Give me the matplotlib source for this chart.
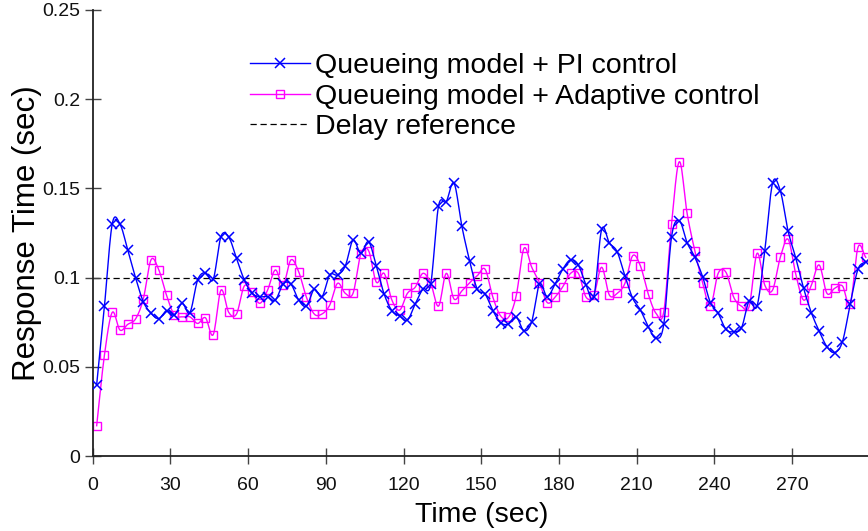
import numpy as np
import matplotlib
matplotlib.use("Agg")
import matplotlib.pyplot as plt
from matplotlib.lines import Line2D

plt.rcParams['font.family'] = ['Liberation Sans', 'DejaVu Sans']

# Time stamps (sec)
time = [1.5 + 3 * k for k in range(100)]

pi_control = [
    0.040, 0.084, 0.130, 0.130, 0.1155, 0.100, 0.0865, 0.080, 0.077, 0.0815,
    0.079, 0.0856, 0.0804, 0.0987, 0.1028, 0.099, 0.123, 0.1227, 0.1108, 0.0987,
    0.0912, 0.0893, 0.0893, 0.0874, 0.0964, 0.0964, 0.0874, 0.084, 0.0934, 0.0893,
    0.1015, 0.1015, 0.1065, 0.121, 0.1136, 0.1201, 0.1065, 0.0908, 0.0815, 0.0785,
    0.0762, 0.0852, 0.0936, 0.0964, 0.140, 0.1426, 0.1529, 0.1289, 0.1095, 0.0934,
    0.0908, 0.0815, 0.0747, 0.074, 0.078, 0.0702, 0.0753, 0.0964, 0.0893, 0.0964,
    0.1047, 0.110, 0.1071, 0.0958, 0.0893, 0.127, 0.1194, 0.1145, 0.1009, 0.0884,
    0.0818, 0.0725, 0.066, 0.074, 0.1229, 0.1319, 0.1196, 0.1114, 0.1005, 0.086,
    0.080, 0.071, 0.0697, 0.0718, 0.087, 0.084, 0.1151, 0.1529, 0.1487, 0.1261,
    0.1108, 0.094, 0.0803, 0.070, 0.0613, 0.058, 0.0641, 0.0852, 0.1047, 0.109,
]

adaptive_control = [
    0.017, 0.0566, 0.0805, 0.0706, 0.0738, 0.0768, 0.088, 0.110, 0.1043, 0.090,
    0.079, 0.078, 0.078, 0.0743, 0.0775, 0.068, 0.093, 0.0805, 0.0796, 0.0953,
    0.0918, 0.0856, 0.093, 0.1043, 0.0958, 0.1099, 0.1033, 0.089, 0.0796, 0.0796,
    0.0846, 0.0968, 0.0912, 0.0912, 0.1132, 0.1151, 0.0974, 0.1024, 0.0874, 0.0818,
    0.0912, 0.0946, 0.1024, 0.0968, 0.084, 0.1024, 0.088, 0.0925, 0.0971, 0.1011,
    0.1047, 0.089, 0.0785, 0.0777, 0.0897, 0.1164, 0.1058, 0.0971, 0.086, 0.089,
    0.0949, 0.1024, 0.1024, 0.089, 0.0902, 0.1058, 0.0902, 0.0912, 0.0968, 0.1123,
    0.1065, 0.0908, 0.080, 0.0809, 0.130, 0.165, 0.136, 0.1149, 0.0971, 0.084,
    0.1024, 0.1030, 0.089, 0.084, 0.084, 0.1136, 0.0958, 0.093, 0.1114, 0.1215,
    0.1017, 0.0874, 0.0958, 0.1071, 0.0912, 0.094, 0.0953, 0.0852, 0.117, 0.1114,
]

delay_reference = 0.1

series_labels = ["Queueing model + PI control",
                 "Queueing model + Adaptive control",
                 "Delay reference"]
xticks = [0, 30, 60, 90, 120, 150, 180, 210, 240, 270]
yticks = [0, 0.05, 0.1, 0.15, 0.2, 0.25]
ytick_labels = ["0", "0.05", "0.1", "0.15", "0.2", "0.25"]


def smooth(x, y, n=12):
    """Catmull-Rom curve through the points (display only)."""
    x = np.asarray(x, float)
    y = np.asarray(y, float)
    px = np.concatenate([[2 * x[0] - x[1]], x, [2 * x[-1] - x[-2]]])
    py = np.concatenate([[2 * y[0] - y[1]], y, [2 * y[-1] - y[-2]]])
    xs, ys = [], []
    s = np.linspace(0, 1, n, endpoint=False)
    for i in range(1, len(px) - 2):
        for arr, out in ((px, xs), (py, ys)):
            p0, p1, p2, p3 = arr[i - 1], arr[i], arr[i + 1], arr[i + 2]
            out.extend(0.5 * ((2 * p1) + (-p0 + p2) * s
                              + (2 * p0 - 5 * p1 + 4 * p2 - p3) * s ** 2
                              + (-p0 + 3 * p1 - 3 * p2 + p3) * s ** 3))
    xs.append(x[-1]); ys.append(y[-1])
    return np.array(xs), np.array(ys)


fig = plt.figure(figsize=(8.68, 5.31), dpi=100)
ax = fig.add_axes([0.1069, 0.1412, 0.895, 0.8400])

blue = '#0000FF'
mag = '#FF00FF'

sx, sy = smooth(time, pi_control)
ax.plot(sx, sy, color=blue, lw=1.0, zorder=3)
ax.plot(time, pi_control, ls='none', marker='x', color=blue, ms=7, mew=1.1, zorder=4)

sx, sy = smooth(time, adaptive_control)
ax.plot(sx, sy, color=mag, lw=1.0, zorder=2)
ax.plot(time, adaptive_control, ls='none', marker='s', color=mag, mfc='none',
        ms=6, mew=1.0, zorder=2.5)

ax.axhline(delay_reference, color='black', lw=0.9, ls=(0, (5, 3)), zorder=1)

handles = [
    Line2D([], [], color=blue, lw=1.0, marker='x', ms=7, mew=1.1),
    Line2D([], [], color=mag, lw=1.0, marker='s', mfc='none', ms=6),
    Line2D([], [], color='black', lw=0.9, ls=(0, (5, 3))),
]
fig.legend(handles, series_labels, loc='upper left',
           bbox_to_anchor=(250 / 868, 1 - 53 / 531), frameon=False,
           fontsize=20.5, handlelength=2.1, handletextpad=0.2,
           labelspacing=0.16, borderpad=0, borderaxespad=0, numpoints=1)

ax.set_xlim(0, 300)
ax.set_ylim(0, 0.25)
ax.set_xticks(xticks)
ax.set_yticks(yticks)
ax.set_yticklabels(ytick_labels)
for side in ('top', 'right'):
    ax.spines[side].set_visible(False)
for side in ('left', 'bottom'):
    ax.spines[side].set_color('#222222')
    ax.spines[side].set_linewidth(1.3)
ax.tick_params(axis='both', direction='inout', length=12, width=1.0,
               color='#444444', labelsize=14, labelcolor='#111111')
ax.tick_params(axis='x', pad=9)
ax.tick_params(axis='y', pad=3)

ax.set_xlabel("Time (sec)", fontsize=20.5, labelpad=6)
ax.set_ylabel("Response Time (sec)", fontsize=22.5, labelpad=0)

fig.savefig("out.png", dpi=100)
